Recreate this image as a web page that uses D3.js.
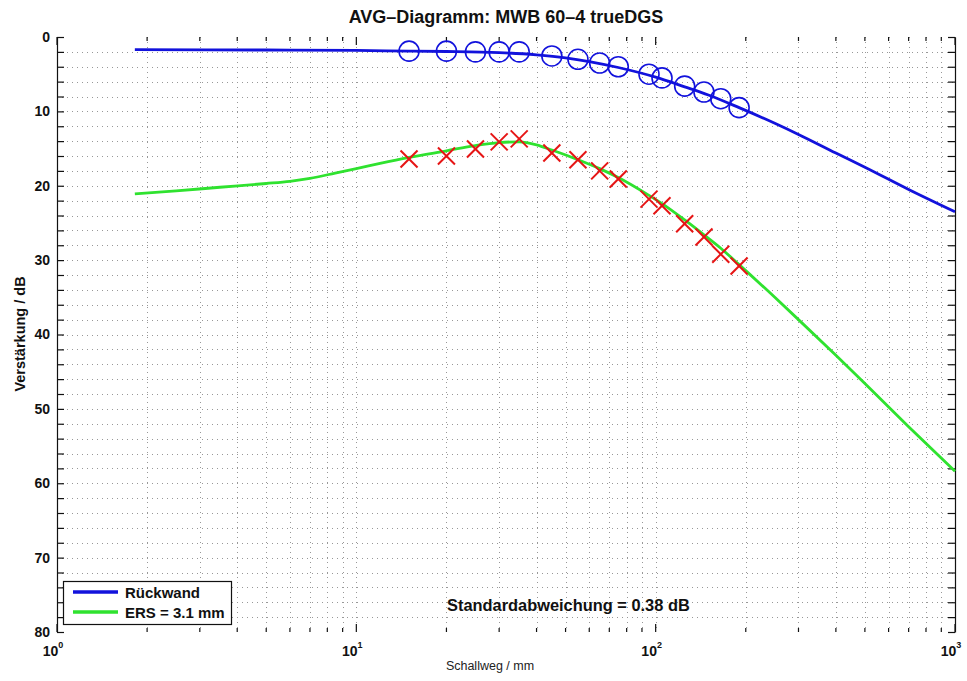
<!DOCTYPE html>
<html>
<head>
<meta charset="utf-8">
<script src="https://cdn.jsdelivr.net/npm/d3@7"></script>
<style>
  html, body { margin: 0; padding: 0; background: #fff; }
  svg { display: block; font-family: "Liberation Sans", Arial, Helvetica, sans-serif; }
</style>
</head>
<body>
<svg id="chart" width="967" height="681"></svg>
<script>
// ---------------- data ----------------
const titleText = "AVG\u2013Diagramm: MWB 60\u20134 trueDGS";
const xLabelText = "Schallweg / mm";
const yLabelText = "Verst\u00e4rkung / dB";
const noteText = "Standardabweichung = 0.38 dB";
const legendLabels = ["R\u00fcckwand", "ERS = 3.1 mm"];

const xMajorTicks = [1, 10, 100, 1000];
const xMajorExp = ["0", "1", "2", "3"];
const yTicks = [0, 10, 20, 30, 40, 50, 60, 70, 80];

// measured points (same distances for both sets)
const pointX = [15, 20, 25, 30, 35, 45, 55, 65, 75, 95, 105, 125, 145, 165, 190];
const circleY = [1.9, 1.9, 2.0, 2.0, 2.0, 2.55, 3.0, 3.5, 4.0, 5.0, 5.5, 6.6, 7.4, 8.3, 9.5];
const crossY = [16.4, 16.0, 15.05, 14.1, 13.7, 15.6, 16.5, 18.0, 19.1, 21.8, 22.7, 25.1, 26.9, 29.2, 30.8];

// curve: Rückwand (back wall)
const backX = [1.82, 5, 10, 15, 20, 30, 40, 50, 60, 75, 100, 125, 150, 190, 250, 300, 400, 500, 700, 1000];
const backY = [1.7, 1.75, 1.8, 1.9, 1.95, 2.1, 2.4, 2.8, 3.3, 4.1, 5.4, 6.7, 7.8, 9.5, 11.6, 13.1, 15.6, 17.5, 20.5, 23.5];

// curve: ERS = 3.1 mm
const ersX = [1.82, 2.5, 3.5, 5, 6, 7, 8.5, 10, 12, 15, 20, 25, 30, 35, 40, 45, 55, 65, 75, 95, 105, 125, 145, 165, 190, 250, 300, 400, 500, 700, 1000];
const ersY = [21.1, 20.7, 20.2, 19.7, 19.4, 19.0, 18.3, 17.7, 17.0, 16.2, 15.3, 14.6, 14.2, 14.1, 14.5, 15.2, 16.5, 17.7, 18.9, 21.3, 22.4, 24.6, 26.6, 28.4, 30.6, 35.0, 38.0, 42.8, 46.6, 52.4, 58.4];

// ---------------- drawing ----------------
const svg = d3.select("#chart");
const L = 57, R = 955, T = 37, B = 632;
const x = d3.scaleLog().domain([1, 1000]).range([L, R]);
const y = d3.scaleLinear().domain([0, 80]).range([T, B]);

const blue = "#1212dc", green = "#2fe22f", red = "#e61414";

// minor x values
const xMinor = [];
[1, 10, 100].forEach(d => { for (let m = 2; m <= 9; m++) xMinor.push(d * m); });
const yAll = d3.range(0, 81, 2);

// grid
const grid = svg.append("g").attr("stroke", "#555").attr("stroke-width", 1)
  .attr("stroke-dasharray", "1,4").attr("opacity", 0.6);
grid.selectAll("line.gx").data(xMinor.concat([10, 100])).join("line")
  .attr("x1", d => Math.round(x(d)) + 0.5).attr("x2", d => Math.round(x(d)) + 0.5)
  .attr("y1", T).attr("y2", B);
grid.selectAll("line.gy").data(yAll.filter(d => d > 0 && d < 80)).join("line")
  .attr("x1", L).attr("x2", R)
  .attr("y1", d => Math.round(y(d)) + 0.5).attr("y2", d => Math.round(y(d)) + 0.5);

// left axis (ticks inward)
const yAxisL = d3.axisLeft(y).tickValues(yAll).tickSizeInner(-7).tickSizeOuter(0).tickPadding(7)
  .tickFormat(d => (d % 10 === 0 ? d : ""));
const gL = svg.append("g").attr("transform", `translate(${L},0)`).call(yAxisL);
gL.selectAll("text").attr("font-size", 14).attr("font-weight", "bold").attr("fill", "#111")
  .attr("font-family", "Liberation Sans, Arial, sans-serif");
gL.selectAll("line, path").attr("stroke", "#111").attr("stroke-width", 1.2);

// right axis
const yAxisR = d3.axisRight(y).tickValues(yAll).tickSizeInner(-7).tickSizeOuter(0).tickFormat("");
const gR = svg.append("g").attr("transform", `translate(${R},0)`).call(yAxisR);
gR.selectAll("line, path").attr("stroke", "#111").attr("stroke-width", 1.2);

// top & bottom ticks (no domain line)
const xTickVals = xMinor.concat(xMajorTicks);
const tickLen = d => (xMajorTicks.includes(d) ? 8 : 4);
const tk = svg.append("g").attr("stroke", "#111").attr("stroke-width", 1.2);
tk.selectAll("line.t").data(xTickVals).join("line")
  .attr("x1", d => x(d)).attr("x2", d => x(d))
  .attr("y1", T).attr("y2", d => T + tickLen(d));
tk.selectAll("line.b").data(xTickVals).join("line")
  .attr("x1", d => x(d)).attr("x2", d => x(d))
  .attr("y1", B).attr("y2", d => B - tickLen(d));

// x tick labels 10^k
const xl = svg.append("g").attr("font-weight", "bold").attr("fill", "#111");
xMajorTicks.forEach((d, i) => {
  const t = xl.append("text").attr("x", x(d) - 4).attr("y", 656).attr("text-anchor", "middle")
    .attr("font-size", 14);
  t.append("tspan").text("10");
  t.append("tspan").attr("dy", -8).attr("font-size", 9).text(xMajorExp[i]);
});

// curves
const line = d3.line().x(d => x(d[0])).y(d => y(d[1])).curve(d3.curveMonotoneX);
svg.append("path").datum(backX.map((v, i) => [v, backY[i]]))
  .attr("d", line).attr("fill", "none").attr("stroke", blue).attr("stroke-width", 2.8);
svg.append("path").datum(ersX.map((v, i) => [v, ersY[i]]))
  .attr("d", line).attr("fill", "none").attr("stroke", green).attr("stroke-width", 2.8);

// markers
svg.append("g").selectAll("circle").data(pointX.map((v, i) => [v, circleY[i]])).join("circle")
  .attr("cx", d => x(d[0])).attr("cy", d => y(d[1])).attr("r", 10)
  .attr("fill", "none").attr("stroke", blue).attr("stroke-width", 1.6);
const cs = 8.5;
const cg = svg.append("g").attr("stroke", red).attr("stroke-width", 2);
pointX.forEach((v, i) => {
  const cx = x(v), cy = y(crossY[i]);
  cg.append("line").attr("x1", cx - cs).attr("y1", cy - cs).attr("x2", cx + cs).attr("y2", cy + cs);
  cg.append("line").attr("x1", cx - cs).attr("y1", cy + cs).attr("x2", cx + cs).attr("y2", cy - cs);
});

// title
svg.append("text").attr("x", (L + R) / 2).attr("y", 23).attr("text-anchor", "middle")
  .attr("font-size", 18).attr("font-weight", "bold").attr("fill", "#111").text(titleText);

// axis labels
svg.append("text").attr("x", 490).attr("y", 670).attr("text-anchor", "middle")
  .attr("font-size", 12.5).attr("fill", "#222").text(xLabelText);
svg.append("text").attr("transform", "translate(25,334) rotate(-90)").attr("text-anchor", "middle")
  .attr("font-size", 14.5).attr("font-weight", "bold").attr("fill", "#111").text(yLabelText);

// note
svg.append("text").attr("x", 447).attr("y", 611).attr("font-size", 16.4).attr("font-weight", "bold")
  .attr("fill", "#111").text(noteText);

// legend
const lg = svg.append("g");
lg.append("rect").attr("x", 63.5).attr("y", 581.5).attr("width", 168).attr("height", 43)
  .attr("fill", "#fff").attr("stroke", "#111").attr("stroke-width", 1.2);
[blue, green].forEach((c, i) => {
  const yy = 592 + i * 20;
  lg.append("line").attr("x1", 73).attr("x2", 118).attr("y1", yy).attr("y2", yy)
    .attr("stroke", c).attr("stroke-width", 3.5);
  lg.append("text").attr("x", 125).attr("y", yy + 5.5).attr("font-size", 15).attr("font-weight", "bold")
    .attr("fill", "#111").text(legendLabels[i]);
});
</script>
</body>
</html>
